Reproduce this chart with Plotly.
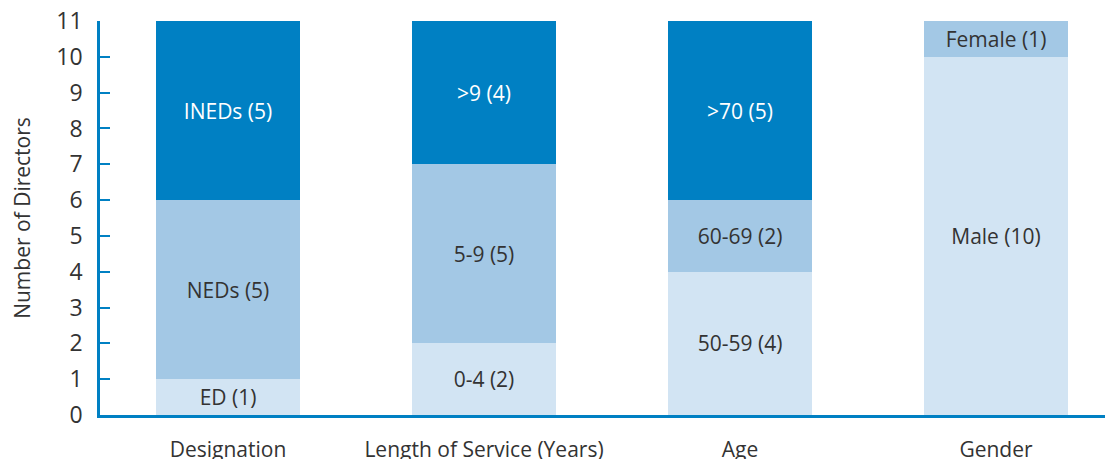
import plotly.graph_objects as go

categories = ["Designation", "Length of Service (Years)", "Age", "Gender"]
bottom_vals = [1, 2, 4, 10]
bottom_text = ["ED (1)", "0-4 (2)", "50-59 (4)", "Male (10)"]
middle_vals = [5, 5, 2, 1]
middle_text = ["NEDs (5)", "5-9 (5)", "60-69 (2)", "Female (1)"]
top_vals = [5, 4, 5, 0]
top_text = ["INEDs (5)", ">9 (4)", ">70 (5)", ""]

colors = ["#D2E4F3", "#A3C8E5", "#0080C3"]
text_colors = ["#333333", "#333333", "#FFFFFF"]
FONT = "Open Sans"

fig = go.Figure()
for vals, txt, col, tcol in [(bottom_vals, bottom_text, colors[0], text_colors[0]),
                              (middle_vals, middle_text, colors[1], text_colors[1]),
                              (top_vals, top_text, colors[2], text_colors[2])]:
    fig.add_trace(go.Bar(
        x=categories, y=vals, text=txt, marker=dict(color=col, line=dict(width=0)),
        textposition="inside", insidetextanchor="middle", texttemplate="%{text}",
        textfont=dict(family=FONT, size=21, color=tcol), hoverinfo="skip",
        showlegend=False, cliponaxis=False,
    ))

fig.update_layout(
    barmode="stack", bargap=0.44, width=1113, height=459,
    margin=dict(l=92, r=8, t=13, b=52),
    plot_bgcolor="white", paper_bgcolor="white",
    font=dict(family=FONT, color="#333333", size=21),
    uniformtext=dict(minsize=21, mode="show"),
)
fig.update_xaxes(range=[-0.5, 3.457], showline=True, linecolor="#0080C3", linewidth=2.5,
                 ticks="", showgrid=False, tickfont=dict(size=21), ticklabelstandoff=14,
                 automargin=False, ticklabeloverflow="allow")
fig.update_yaxes(range=[0, 11], dtick=1, showline=True, linecolor="#0080C3", linewidth=2.5,
                 ticks="inside", ticklen=10, tickwidth=2, tickcolor="#0080C3",
                 showgrid=False, zeroline=False, tickfont=dict(size=23),
                 title=dict(text="Number of Directors", font=dict(size=21), standoff=20),
                 ticklabelstandoff=10, automargin=False, ticklabeloverflow="allow")

fig.write_html("out.html")
